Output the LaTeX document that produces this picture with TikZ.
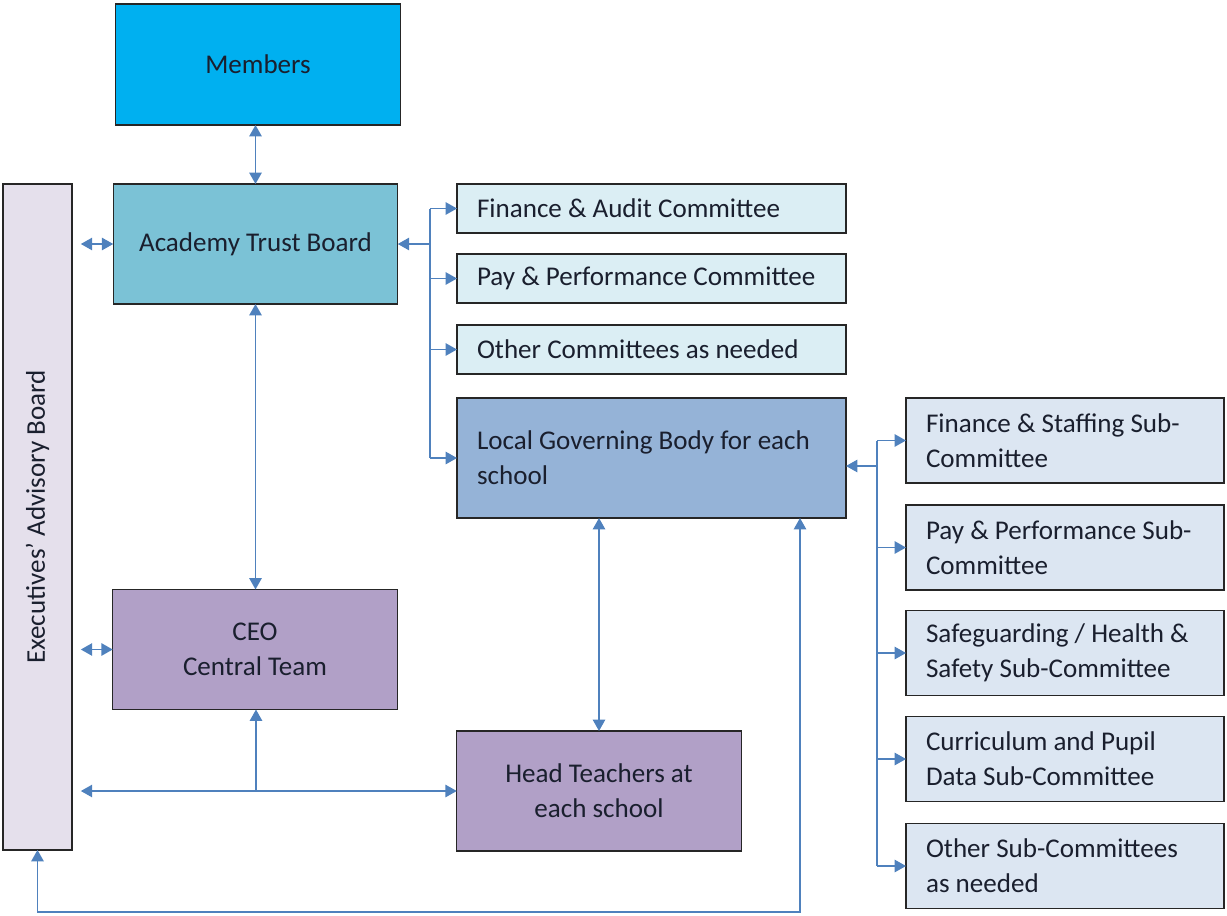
\documentclass[tikz,border=0pt]{standalone}
\usepackage{fontspec}
\usepackage{graphicx}
\setmainfont{Carlito}
\usetikzlibrary{arrows.meta}
\definecolor{memc}{HTML}{00B0F0}
\definecolor{atbc}{HTML}{7BC2D6}
\definecolor{execc}{HTML}{E5E0EC}
\definecolor{purc}{HTML}{B1A0C7}
\definecolor{comc}{HTML}{DBEEF4}
\definecolor{lgbc}{HTML}{95B3D7}
\definecolor{subc}{HTML}{DCE6F2}
\definecolor{linec}{HTML}{4F81BD}
\definecolor{bordc}{HTML}{262626}
\definecolor{textc}{HTML}{1A1F2E}
\begin{document}
\begin{tikzpicture}[x=0.02cm,y=-0.02cm,
  font=\fontsize{15.4}{20}\selectfont,
  box/.style={draw=bordc, line width=0.8pt, inner sep=0pt, outer sep=0pt, text=textc, align=center},
  combox/.style={box, fill=comc, align=flush left, inner xsep=0.4cm, text width=6.98cm, minimum height=0.98cm},
  subbox/.style={box, fill=subc, align=flush left, inner xsep=0.4cm, text width=5.56cm, minimum height=1.7cm},
  bigbox/.style={box, minimum width=5.69cm, minimum height=2.4cm},
  conn/.style={draw=linec, line width=1.1pt},
  arr/.style={conn, -{Triangle[length=6.5pt,width=7pt]}},
  dbl/.style={conn, {Triangle[length=6.5pt,width=7pt]}-{Triangle[length=6.5pt,width=7pt]}}
]
\useasboundingbox (0,0) rectangle (1227,916);

% main boxes
\node[bigbox, fill=memc, minimum height=2.42cm] (mem) at (258,64.5) {Members};
\node[bigbox, fill=atbc] (atb) at (255.5,244) {Academy Trust Board};
\node[box, fill=execc, minimum width=1.38cm, minimum height=13.32cm] (exec) at (37.5,517) {\rotatebox{90}{Executives’ Advisory Board}};
\node[bigbox, fill=purc] (ceo) at (255,649.5) {CEO\\Central Team};
\node[bigbox, fill=purc] (ht) at (599,791) {Head Teachers at\\each school};

% committees
\node[combox] (c1) at (651.5,208.5) {Finance \& Audit Committee};
\node[combox] (c2) at (651.5,278.5) {Pay \& Performance Committee};
\node[combox] (c3) at (651.5,349.5) {Other Committees as needed};
\node[box, fill=lgbc, align=flush left, inner xsep=0.4cm, text width=6.98cm, minimum height=2.4cm] (lgb) at (651.5,458) {Local Governing Body for each\\school};

% sub-committees
\node[subbox] (s1) at (1065,440.5) {Finance \& Staffing Sub-\\Committee};
\node[subbox] (s2) at (1065,547.5) {Pay \& Performance Sub-\\Committee};
\node[subbox] (s3) at (1065,653) {Safeguarding / Health \&\\Safety Sub-Committee};
\node[subbox] (s4) at (1065,759) {Curriculum and Pupil\\Data Sub-Committee};
\node[subbox] (s5) at (1065,866) {Other Sub-Committees\\as needed};

% coordinates
\coordinate (bx) at (430,244);
\coordinate (sx) at (877,466);
\coordinate (hj) at (256,791);
\coordinate (rb) at (800,912);

% connectors
\draw[dbl] (atb.north |- mem.south) -- (atb.north);
\draw[dbl, shorten <=5pt] (exec.east |- atb.west) -- (atb.west);
\draw[dbl] (atb.south) -- (atb.south |- ceo.north);
\draw[dbl, shorten <=5pt] (exec.east |- ceo.west) -- (ceo.west);

\draw[arr] (bx) -- (atb.east);
\draw[conn] (bx |- c1.west) -- (bx |- lgb.west);
\draw[arr] (bx |- c1.west) -- (c1.west);
\draw[arr] (bx |- c2.west) -- (c2.west);
\draw[arr] (bx |- c3.west) -- (c3.west);
\draw[arr] (bx |- lgb.west) -- (lgb.west);

\draw[arr] (sx) -- (lgb.east |- sx);
\draw[conn] (sx |- s1.west) -- (sx |- s5.west);
\draw[arr] (sx |- s1.west) -- (s1.west);
\draw[arr] (sx |- s2.west) -- (s2.west);
\draw[arr] (sx |- s3.west) -- (s3.west);
\draw[arr] (sx |- s4.west) -- (s4.west);
\draw[arr] (sx |- s5.west) -- (s5.west);

\draw[dbl] (ht.north |- lgb.south) -- (ht.north);

\draw[arr] (hj) -- (hj |- ceo.south);
\draw[dbl, shorten <=5pt] (exec.east |- hj) -- (ht.west |- hj);

\draw[dbl] (exec.south) -- (exec.south |- rb) -- (rb) -- (rb |- lgb.south);
\end{tikzpicture}
\end{document}
